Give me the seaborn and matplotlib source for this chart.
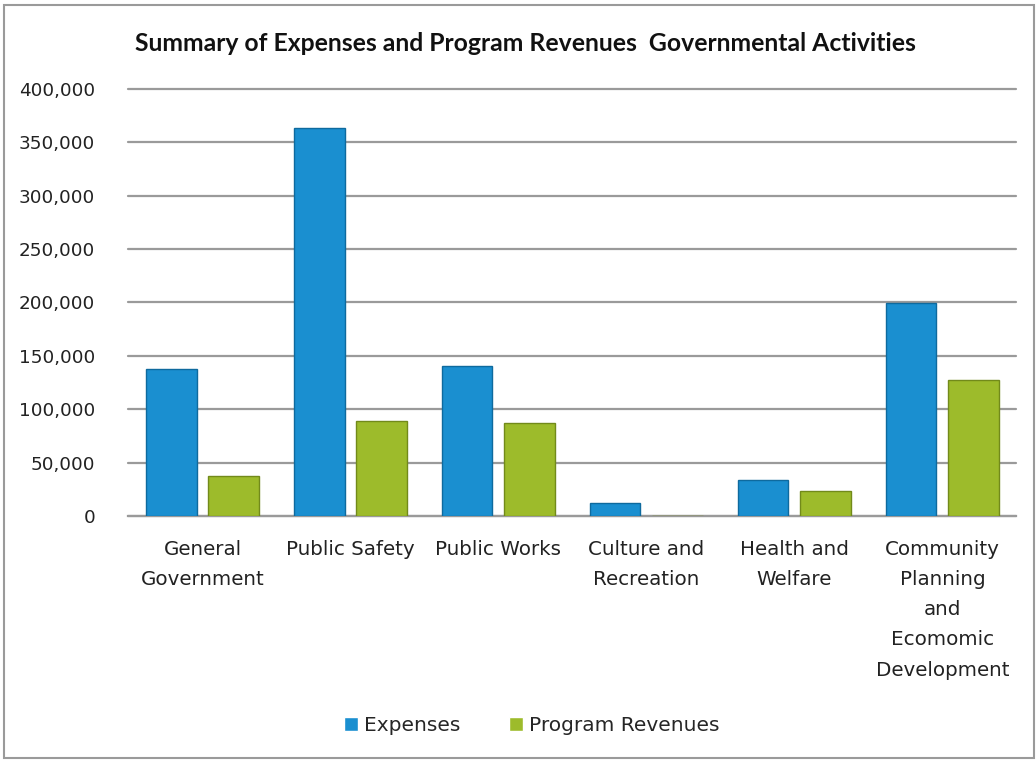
import pandas as pd
import seaborn as sns
import matplotlib.pyplot as plt
from matplotlib.patches import Rectangle
from matplotlib.ticker import FuncFormatter

# values
categories = ["General\nGovernment", "Public Safety", "Public Works",
              "Culture and\nRecreation", "Health and\nWelfare",
              "Community\nPlanning\nand\nEcomomic\nDevelopment"]
expenses = [137700, 363500, 140500, 12200, 33700, 199500]
revenues = [37500, 89000, 87100, 0, 23400, 127400]
series = ["Expenses", "Program Revenues"]
colors = ["#1a8fd0", "#9dbb2b"]
edge_colors = ["#0e6a9e", "#728a1a"]

df = pd.DataFrame({
    "Category": categories * 2,
    "Value": expenses + revenues,
    "Series": [series[0]] * len(categories) + [series[1]] * len(categories),
})

sns.set_style("white")
plt.rcParams['font.family'] = ['DejaVu Sans']

fig = plt.figure(figsize=(10.36, 7.61), dpi=100)
ax = fig.add_axes([0.124, 0.322, 0.857, 0.561])

sns.barplot(data=df, x="Category", y="Value", hue="Series",
            palette=colors, saturation=1, width=0.84, gap=0.19,
            ax=ax, zorder=3)

# darker outline per series
for cont, ec in zip(ax.containers, edge_colors):
    for bar in cont:
        bar.set_edgecolor(ec)
        bar.set_linewidth(1.0)

ax.set_ylim(0, 400000)
ax.set_yticks(range(0, 400001, 50000))
ax.yaxis.set_major_formatter(FuncFormatter(lambda v, p: f"{int(v):,}"))
ax.grid(axis="y", color="#9a9a9a", linewidth=1.6, zorder=0)
for gl in ax.get_ygridlines():
    gl.set_clip_on(False)
ax.set_axisbelow(True)
for s in ["top", "right", "left"]:
    ax.spines[s].set_visible(False)
ax.spines["bottom"].set_color("#9a9a9a")
ax.spines["bottom"].set_linewidth(1.6)
ax.tick_params(axis="both", length=0, colors="#222222")
ax.tick_params(axis="y", pad=24, labelsize=13.2)
ax.tick_params(axis="x", pad=17, labelsize=14.3)
for lab in ax.get_xticklabels():
    lab.set_linespacing(1.75)
ax.set_xlabel("")
ax.set_ylabel("")

fig.text(0.507, 0.943, "Summary of Expenses and Program Revenues  Governmental Activities",
         ha="center", va="center", fontsize=17.8, fontweight="bold",
         family=["Lato", "DejaVu Sans"], color="#111111")

handles, labels = ax.get_legend_handles_labels()
ax.legend(handles, labels, loc="center", bbox_to_anchor=(0.513, 0.046),
          bbox_transform=fig.transFigure, ncol=2, frameon=False,
          fontsize=14.5, handlelength=0.7, handleheight=0.7,
          handletextpad=0.3, columnspacing=2.4)

# frame around the whole chart
fig.patches.append(Rectangle((0.004, 0.004), 0.994, 0.99, transform=fig.transFigure,
                             fill=False, edgecolor="#9a9a9a", linewidth=1.5))

fig.savefig("out.png", dpi=100)
